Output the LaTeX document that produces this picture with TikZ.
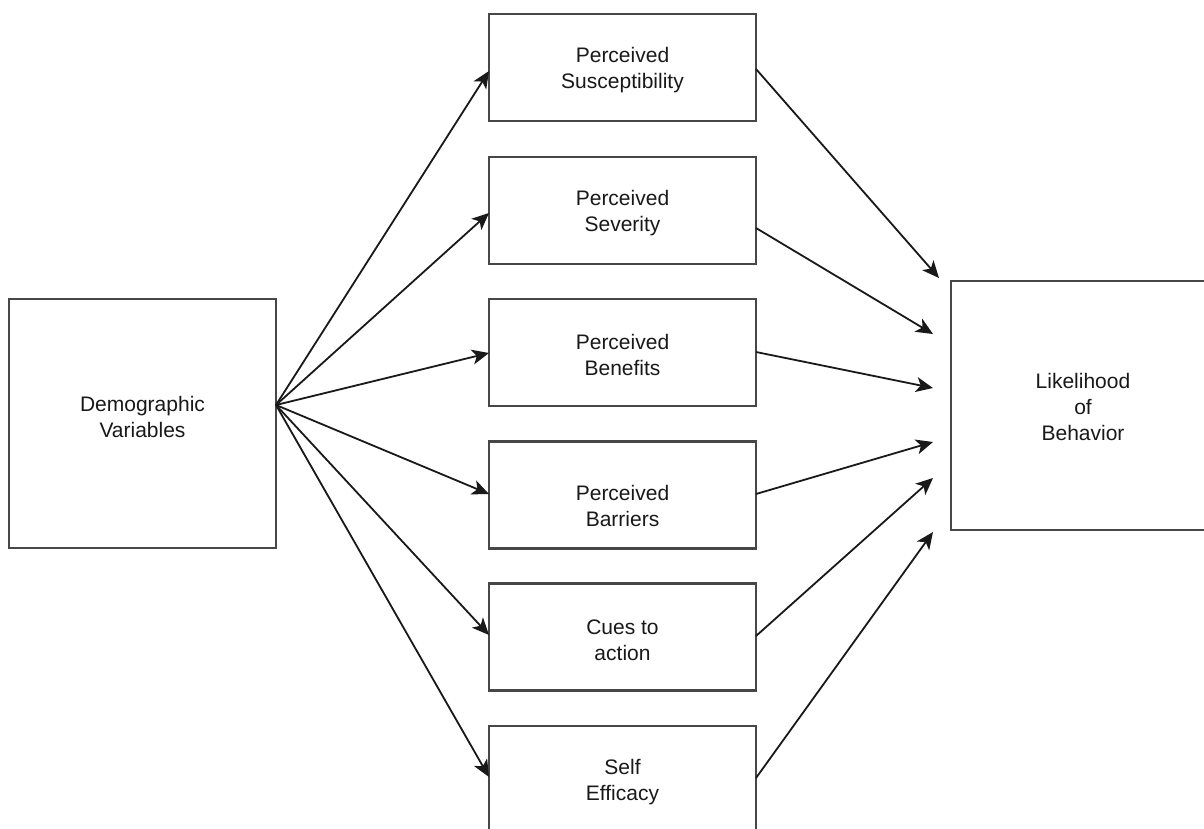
\documentclass[tikz,border=0pt]{standalone}
\usepackage{fontspec}
\setmainfont{Liberation Sans}
\usetikzlibrary{arrows.meta}
\begin{document}
\begin{tikzpicture}[x=1pt,y=-1pt,
  box/.style={draw=black!72,line width=2.2pt,fill=white,minimum width=267pt,minimum height=107pt,inner sep=0pt,outer sep=0pt},
  txt/.style={align=center,inner sep=0pt,font=\fontsize{21}{26}\selectfont,text=black!90},
  arr/.style={draw=black!90,line width=1.8pt,-{Stealth[length=17pt,width=15pt,inset=4.5pt]}}]
\useasboundingbox (0,0) rectangle (1204,829);
\fill[white] (0,0) rectangle (1204,829);
% boxes
\node[box,minimum height=249pt] (dem) at (142.5,423.5) {};
\node[box,minimum width=264pt,minimum height=249pt] (lik) at (1083,405.5) {};
\node[box] (b1) at (622.5,67.5) {};
\node[box] (b2) at (622.5,210.5) {};
\node[box] (b3) at (622.5,352.5) {};
\node[box] (b4) at (622.5,495) {};
\node[box] (b5) at (622.5,637) {};
\node[box] (b6) at (622.5,779.5) {};
% texts
\node[txt] (demt) at (142.5,417) {Demographic\\Variables};
\node[txt] (likt) at (1083,407) {Likelihood\\of\\Behavior};
\node[txt] (t1) at (622.5,70) {Perceived\\Susceptibility};
\node[txt] (t2) at (622.5,213) {Perceived\\Severity};
\node[txt] (t3) at (622.5,355) {Perceived\\Benefits};
\node[txt] (t4) at (622.5,506) {Perceived\\Barriers};
\node[txt] (t5) at (622.5,640) {Cues to\\action};
\node[txt] (t6) at (622.5,782) {Self\\Efficacy};
% connection points
\coordinate (src) at ([yshift=18.5pt]dem.east);
\coordinate (e1) at ([xshift=-12pt,yshift=127.5pt]lik.west);
\coordinate (e2) at ([xshift=-18pt,yshift=71.5pt]lik.west);
\coordinate (e3) at ([xshift=-18pt,yshift=17.5pt]lik.west);
\coordinate (e4) at ([xshift=-18pt,yshift=-36.5pt]lik.west);
\coordinate (e5) at ([xshift=-18pt,yshift=-72.5pt]lik.west);
\coordinate (e6) at ([xshift=-18pt,yshift=-126.5pt]lik.west);
% left arrows
\draw[arr] (src) -- ([yshift=-3.5pt]b1.west);
\draw[arr] (src) -- ([yshift=-2.5pt]b2.west);
\draw[arr] (src) -- ([yshift=-0.5pt]b3.west);
\draw[arr] (src) -- ([yshift=1pt]b4.west);
\draw[arr] (src) -- ([yshift=2pt]b5.west);
\draw[arr] (src) -- ([yshift=2.5pt]b6.west);
% right arrows
\draw[arr] ([yshift=-1.5pt]b1.east) -- (e1);
\draw[arr] ([yshift=-17.5pt]b2.east) -- (e2);
\draw[arr] ([yshift=0.5pt]b3.east) -- (e3);
\draw[arr] ([yshift=1pt]b4.east) -- (e4);
\draw[arr] ([yshift=1pt]b5.east) -- (e5);
\draw[arr] ([yshift=1.5pt]b6.east) -- (e6);
\end{tikzpicture}
\end{document}
